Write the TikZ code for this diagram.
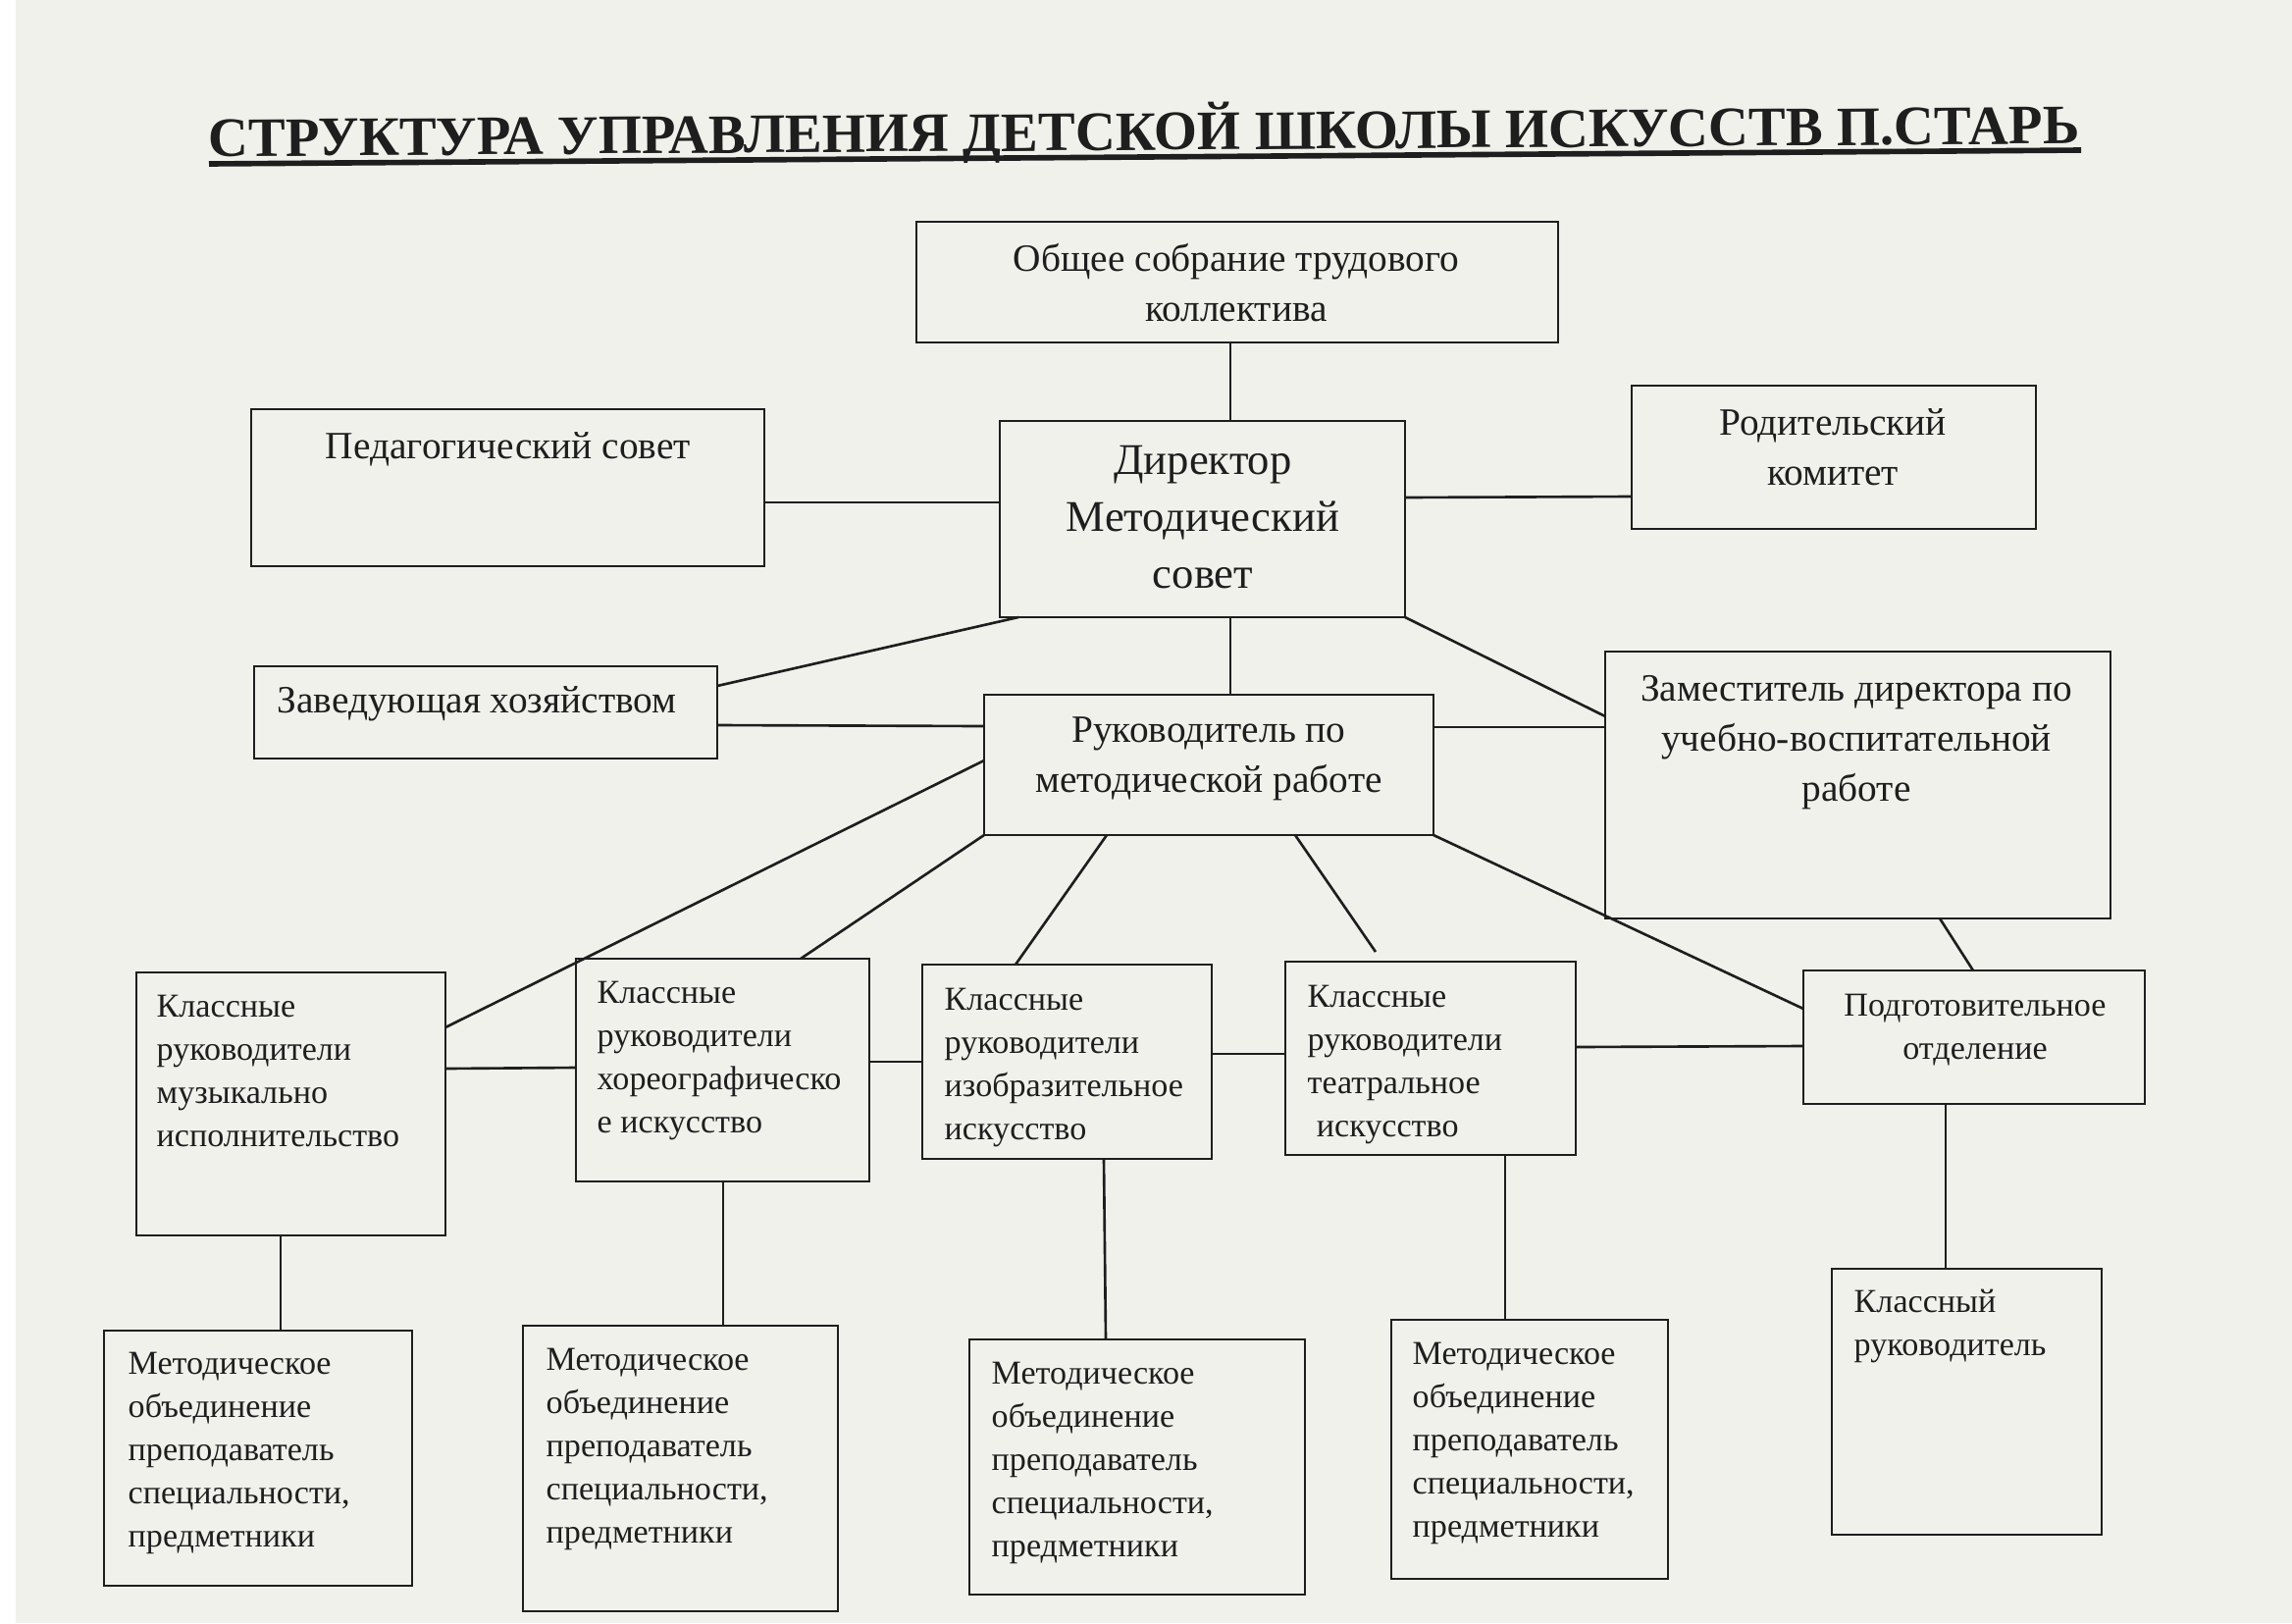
\documentclass[tikz,border=0pt]{standalone}
\usepackage{fontspec}
\setmainfont{Liberation Serif}
\usetikzlibrary{calc}
\definecolor{paper}{RGB}{241,241,236}
\definecolor{ink}{RGB}{30,30,30}
\newcommand\sstrut{\rule{0pt}{11pt}}
\newcommand\mkbox[5]{\node[box, minimum width={(#4-#2)*0.01cm}, minimum height={(#5-#3)*0.01cm}] (#1) at ({(#2+#4)/2},{(#3+#5)/2}) {};}
\newcommand\txt[5]{\node[#1] (#2) at (#3,{#4-38.66+6}) {\sstrut #5};}
\begin{document}
\begin{tikzpicture}[x=0.01cm,y=-0.01cm,
  box/.style={draw=ink, line width=0.75pt, rectangle, inner sep=0pt, outer sep=0pt},
  conn/.style={draw=ink, line width=0.75pt},
  lt/.style={anchor=north west, inner sep=0pt, align=left, text=ink, font=\fontsize{9.7}{12.5}\selectfont},
  ct/.style={anchor=north, inner sep=0pt, align=center, text=ink, font=\fontsize{11.2}{14.5}\selectfont},
  cs/.style={anchor=north, inner sep=0pt, align=center, text=ink, font=\fontsize{9.7}{12.5}\selectfont},
  cb/.style={anchor=north, inner sep=0pt, align=center, text=ink, font=\fontsize{12.7}{16.5}\selectfont},
]
\fill[paper] (0,0) rectangle (2336,1654);
\fill[white] (0,0) rectangle (16,1654);
\useasboundingbox (0,0) rectangle (2336,1654);

% title
\node[anchor=base, inner sep=0pt, text=ink, rotate=0.4] (title) at (1166,153)
  {\resizebox{19.06cm}{!}{\bfseries СТРУКТУРА УПРАВЛЕНИЯ ДЕТСКОЙ ШКОЛЫ ИСКУССТВ П.СТАРЬ}};
\draw[ink, line width=1.6pt] (213,167) -- (2121,153);

% boxes
\mkbox{obsh}{934}{226}{1588}{349}
\mkbox{ped}{256}{417}{779}{577}
\mkbox{dir}{1019}{429}{1432}{629}
\mkbox{rod}{1663}{393}{2075}{539}
\mkbox{zav}{259}{679}{731}{773}
\mkbox{ruk}{1003}{708}{1461}{851}
\mkbox{zam}{1636}{664}{2151}{936}
\mkbox{muz}{139}{991}{454}{1259}
\mkbox{hor}{587}{977}{886}{1204}
\mkbox{izo}{940}{983}{1235}{1181}
\mkbox{teatr}{1310}{980}{1606}{1177}
\mkbox{podg}{1838}{989}{2186}{1125}
\mkbox{mA}{106}{1356}{420}{1616}
\mkbox{mB}{533}{1351}{854}{1642}
\mkbox{mC}{988}{1365}{1330}{1625}
\mkbox{mD}{1418}{1345}{1700}{1609}
\mkbox{kl}{1867}{1293}{2142}{1564}

% texts
\txt{ct}{obsh-t}{1260}{270}{Общее собрание трудового\\коллектива}
\txt{ct}{ped-t}{518}{461}{Педагогический совет}
\txt{cb}{dir-t}{1226}{477}{Директор\\Методический\\совет}
\txt{ct}{rod-t}{1868}{437}{Родительский\\комитет}
\txt{ct}{zav-t}{486}{720}{Заведующая хозяйством}
\txt{ct}{ruk-t}{1232}{750}{Руководитель по\\методической работе}
\txt{ct}{zam-t}{1892}{708}{Заместитель директора по\\учебно-воспитательной\\работе}
\txt{lt}{muz-t}{159}{1030}{Классные\\руководители\\музыкально\\исполнительство}
\txt{lt}{hor-t}{608}{1016}{Классные\\руководители\\хореографическо\\е искусство}
\txt{lt}{izo-t}{962}{1023}{Классные\\руководители\\изобразительное\\искусство}
\txt{lt}{teatr-t}{1332}{1020}{Классные\\руководители\\театральное\\\hspace*{2.6pt}искусство}
\txt{cs}{podg-t}{2013}{1029}{Подготовительное\\отделение}
\txt{lt}{mA-t}{130}{1394}{Методическое\\объединение\\преподаватель\\специальности,\\предметники}
\txt{lt}{mB-t}{556}{1390}{Методическое\\объединение\\преподаватель\\специальности,\\предметники}
\txt{lt}{mC-t}{1010}{1404}{Методическое\\объединение\\преподаватель\\специальности,\\предметники}
\txt{lt}{mD-t}{1439}{1384}{Методическое\\объединение\\преподаватель\\специальности,\\предметники}
\txt{lt}{kl-t}{1889}{1331}{Классный\\руководитель}

% connectors
\coordinate (tend) at (1402,970);
\draw[conn] (obsh.south -| 1254,0) -- (dir.north -| 1254,0);
\draw[conn] (ped.east |- 0,512) -- (dir.west |- 0,512);
\draw[conn] (dir.east |- 0,507) -- (rod.west |- 0,506);
\draw[conn] (dir.south -| 1038,0) -- (zav.east |- 0,699);
\draw[conn] (dir.south -| 1254,0) -- (ruk.north -| 1254,0);
\draw[conn] (dir.south east) -- (zam.west |- 0,730);
\draw[conn] (zav.east |- 0,739) -- (ruk.west |- 0,740);
\draw[conn] (ruk.east |- 0,741) -- (zam.west |- 0,741);
\draw[conn] (ruk.west |- 0,775) -- (muz.east |- 0,1047);
\draw[conn] (ruk.south west) -- (hor.north -| 816,0);
\draw[conn] (ruk.south -| 1128,0) -- (izo.north -| 1035,0);
\draw[conn] (ruk.south -| 1320,0) -- (tend);
\draw[conn] (ruk.south east) -- (podg.west |- 0,1028);
\draw[conn] (zam.south -| 1977,0) -- (podg.north -| 2011,0);
\draw[conn] (muz.east |- 0,1089) -- (hor.west |- 0,1088);
\draw[conn] (hor.east |- 0,1082) -- (izo.west |- 0,1082);
\draw[conn] (izo.east |- 0,1074) -- (teatr.west |- 0,1074);
\draw[conn] (teatr.east |- 0,1067) -- (podg.west |- 0,1066);
\draw[conn] (muz.south -| 286,0) -- (mA.north -| 286,0);
\draw[conn] (hor.south -| 737,0) -- (mB.north -| 737,0);
\draw[conn] (izo.south -| 1125,0) -- (mC.north -| 1127,0);
\draw[conn] (teatr.south -| 1534,0) -- (mD.north -| 1534,0);
\draw[conn] (podg.south -| 1983,0) -- (kl.north -| 1983,0);
\end{tikzpicture}
\end{document}
